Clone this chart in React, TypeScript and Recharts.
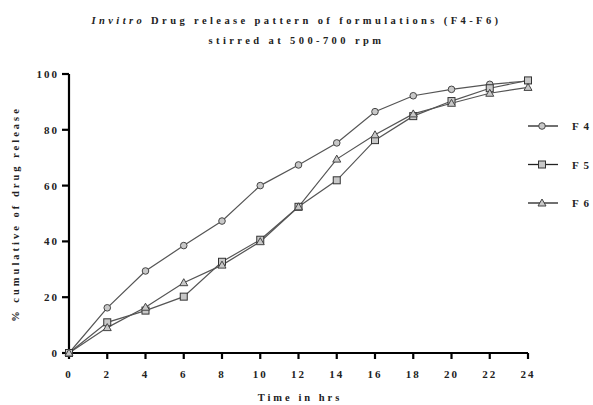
import { Label, Line, LineChart, XAxis, YAxis } from "recharts";

const hours = [0, 2, 4, 6, 8, 10, 12, 14, 16, 18, 20, 22, 24];
const f4 = [0, 16.2, 29.4, 38.5, 47.3, 60.0, 67.4, 75.3, 86.5, 92.2, 94.5, 96.3, 97.5];
const f5 = [0, 11.0, 15.2, 20.2, 32.7, 40.6, 52.4, 61.9, 76.3, 84.9, 90.3, 94.9, 97.7];
const f6 = [0, 9.1, 16.4, 25.2, 31.5, 39.9, 52.4, 69.5, 78.2, 85.7, 89.5, 93.1, 95.2];
const xTicks = [0, 2, 4, 6, 8, 10, 12, 14, 16, 18, 20, 22, 24];
const yTicks = [0, 20, 40, 60, 80, 100];

const data = hours.map((h, i) => ({ h, F4: f4[i], F5: f5[i], F6: f6[i] }));

const FONT = "'Liberation Serif', 'DejaVu Serif', serif";
const LINE = "#555";
const MARK_FILL = "#c8c8c8";

type Shape = "circle" | "square" | "triangle";

function marker(shape: Shape, cx: number, cy: number, key?: string) {
  if (shape === "circle")
    return <circle key={key} cx={cx} cy={cy} r={3.3} fill={MARK_FILL} stroke="#444" strokeWidth={1} />;
  if (shape === "square")
    return <rect key={key} x={cx - 3.5} y={cy - 3.5} width={7} height={7} fill={MARK_FILL} stroke="#333" strokeWidth={1} />;
  return (
    <polygon
      key={key}
      points={`${cx},${cy - 4} ${cx - 4},${cy + 3} ${cx + 4},${cy + 3}`}
      fill={MARK_FILL}
      stroke="#444"
      strokeWidth={1}
    />
  );
}

const dotFor = (shape: Shape) => (props: any) => marker(shape, props.cx, props.cy, `${shape}-${props.index}`);

const series: { key: string; label: string; shape: Shape }[] = [
  { key: "F4", label: "F 4", shape: "circle" },
  { key: "F5", label: "F 5", shape: "square" },
  { key: "F6", label: "F 6", shape: "triangle" },
];

function LegendBox() {
  return (
    <svg width={64} height={100} style={{ position: "absolute", left: 527, top: 118 }}>
      {series.map((s, i) => {
        const y = 8 + i * 38.5;
        return (
          <g key={s.key}>
            <line x1={1} x2={31} y1={y} y2={y} stroke="#222" strokeWidth={1.3} />
            {marker(s.shape, 15, y)}
            <text x={45} y={y + 4} fontFamily={FONT} fontWeight="bold" fontSize={11} letterSpacing={1.2} fill="#222">
              {s.label}
            </text>
          </g>
        );
      })}
    </svg>
  );
}

const tickStyle = { fontFamily: FONT, fontWeight: "bold" as const, fontSize: 11, fill: "#222", letterSpacing: 2 };

export default function App() {
  return (
    <div style={{ position: "absolute", left: 0, top: 0, width: 593, height: 405, background: "#fff" }}>
      <div
        style={{
          position: "absolute",
          top: 11,
          left: 0,
          width: 593,
          textAlign: "center",
          fontFamily: FONT,
          fontWeight: "bold",
          fontSize: 10.5,
          letterSpacing: 3.4,
          lineHeight: "20px",
          color: "#222",
        }}
      >
        <div>
          <i>Invitro</i> Drug release pattern of formulations (F4-F6)
        </div>
        <div>stirred at 500-700 rpm</div>
      </div>
      <LineChart width={593} height={405} data={data} margin={{ top: 74, right: 65, left: 29, bottom: 22 }}>
        <XAxis
          dataKey="h"
          type="number"
          domain={[0, 24]}
          ticks={xTicks}
          interval={0}
          axisLine={{ stroke: "#000", strokeWidth: 2.2 }}
          tickLine={{ stroke: "#000", strokeWidth: 2.2 }}
          tickSize={6}
          tickMargin={11}
          tick={tickStyle}
          height={30}
        >
          <Label
            content={() => (
              <text x={300} y={401} textAnchor="middle" fontFamily={FONT} fontWeight="bold" fontSize={10.5} letterSpacing={3} fill="#222">
                Time in hrs
              </text>
            )}
          />
        </XAxis>
        <YAxis
          type="number"
          domain={[0, 100]}
          ticks={yTicks}
          interval={0}
          axisLine={{ stroke: "#000", strokeWidth: 2.2 }}
          tickLine={{ stroke: "#000", strokeWidth: 2.2 }}
          tickSize={7}
          tickMargin={3}
          tick={tickStyle}
          width={40}
        >
          <Label
            content={() => (
              <text
                x={19}
                y={214}
                transform="rotate(-90 19 214)"
                textAnchor="middle"
                fontFamily={FONT}
                fontWeight="bold"
                fontSize={10.5}
                letterSpacing={3}
                fill="#222"
              >
                % cumulative of drug release
              </text>
            )}
          />
        </YAxis>
        {series.map((s) => (
          <Line
            key={s.key}
            dataKey={s.key}
            type="linear"
            stroke={LINE}
            strokeWidth={1.2}
            dot={dotFor(s.shape)}
            activeDot={false}
            isAnimationActive={false}
            legendType="none"
          />
        ))}
      </LineChart>
      <LegendBox />
    </div>
  );
}
